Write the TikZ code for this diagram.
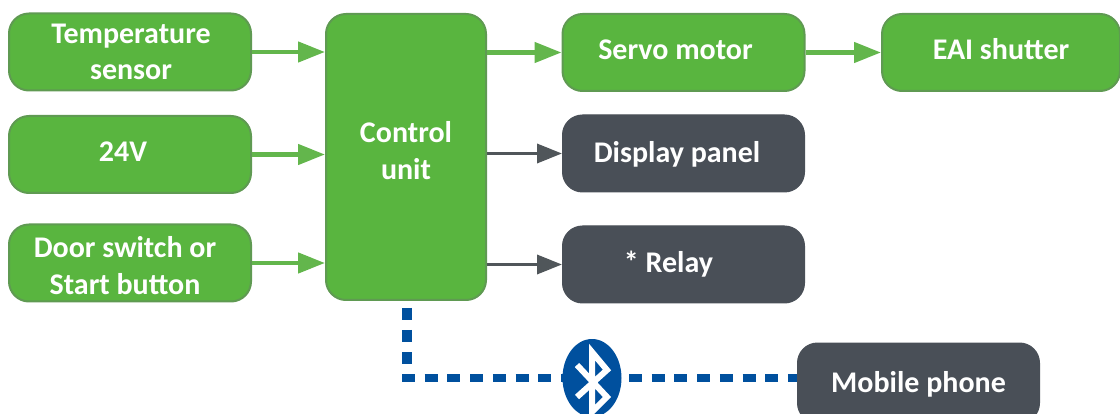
\documentclass[tikz,border=0pt]{standalone}
\usepackage{fontspec}
\setmainfont{Carlito}
\usetikzlibrary{arrows.meta,calc,shapes.geometric}
\definecolor{grn}{HTML}{59B53F}
\definecolor{grnb}{HTML}{5F9A52}
\definecolor{grna}{HTML}{63B64C}
\definecolor{drk}{HTML}{494F57}
\definecolor{drka}{HTML}{50565A}
\definecolor{blu}{HTML}{00509E}
\newcommand\off[3]{\makebox[0pt]{\hspace{#1}\raisebox{#2}[0pt][0pt]{\begin{tabular}[c]{@{}c@{}}#3\end{tabular}}}}
\tikzset{
 x=1pt,y=-1pt,
 boxbase/.style={rounded corners=20pt,minimum width=242pt,minimum height=77pt,inner sep=0pt,font=\fontsize{30}{36.5}\selectfont\bfseries,text=white},
 gbox/.style={boxbase,fill=grn,draw=grnb,line width=2pt},
 dbox/.style={boxbase,fill=drk,draw=drk,line width=1pt},
 garrow/.style={draw=grna,line width=4.5pt,-{Triangle[length=27pt,width=20pt]}},
 darrow/.style={draw=drka,line width=3.5pt,-{Triangle[length=25pt,width=19pt]}},
 bline/.style={draw=blu,line width=9pt},
}
\begin{document}
\begin{tikzpicture}
\useasboundingbox (0,0) rectangle (1120,414);
\clip (0,0) rectangle (1120,414);
\node[gbox] (temp) at (130,52) {\off{2pt}{-8.5pt}{Temperature\\sensor}};
\node[gbox] (v24) at (130,154.5) {\off{-14pt}{-6pt}{24V}};
\node[gbox] (door) at (130,263) {\off{-10pt}{-12pt}{Door switch or\\Start button}};
\node[gbox,minimum width=160pt,minimum height=286pt] (ctl) at (406,157) {\off{0pt}{-3pt}{Control\\unit}};
\node[gbox] (servo) at (683.5,52.5) {\off{-16pt}{-6pt}{Servo motor}};
\node[gbox,minimum width=238pt] (eai) at (1001,52.5) {\off{0pt}{-6pt}{EAI shutter}};
\node[dbox] (disp) at (683.5,153.5) {\off{-13pt}{-8pt}{Display panel}};
\node[dbox] (relay) at (683.5,264.5) {\off{-30pt}{-7pt}{* Relay}};
\node[dbox,minimum height=80pt] (phone) at (918.5,383) {\off{0pt}{-8pt}{Mobile phone}};
\draw[garrow] (temp.east) -- (ctl.west |- temp.east);
\draw[garrow] (v24.east) -- (ctl.west |- v24.east);
\draw[garrow] (door.east) -- (ctl.west |- door.east);
\draw[garrow] (ctl.east |- servo.west) -- (servo.west);
\draw[garrow] (servo.east) -- (eai.west);
\draw[darrow] (ctl.east |- disp.west) -- (disp.west);
\draw[darrow] (ctl.east |- relay.west) -- (relay.west);
\coordinate (corner) at (407,378);
\coordinate (vtop) at (407,308);
\coordinate (hstart) at (402,378);
\draw[bline,line width=10pt,dash pattern=on 12pt off 10pt] (vtop) -- (407,366);
\draw[bline,line width=8pt,dash pattern=on 13pt off 9.7pt] (hstart) -- (phone.west |- corner);
\node[ellipse,fill=blu,minimum width=59pt,minimum height=78pt,inner sep=0pt] (bt) at (592,378) {};
\draw[white,line width=6pt,line join=miter] ($(bt.center)+(-15,-13)$) -- ($(bt.center)+(15,19)$) -- ($(bt.center)+(0,34)$) -- ($(bt.center)+(0,-26)$) -- ($(bt.center)+(15,-8)$) -- ($(bt.center)+(-15,19)$);
\end{tikzpicture}
\end{document}
